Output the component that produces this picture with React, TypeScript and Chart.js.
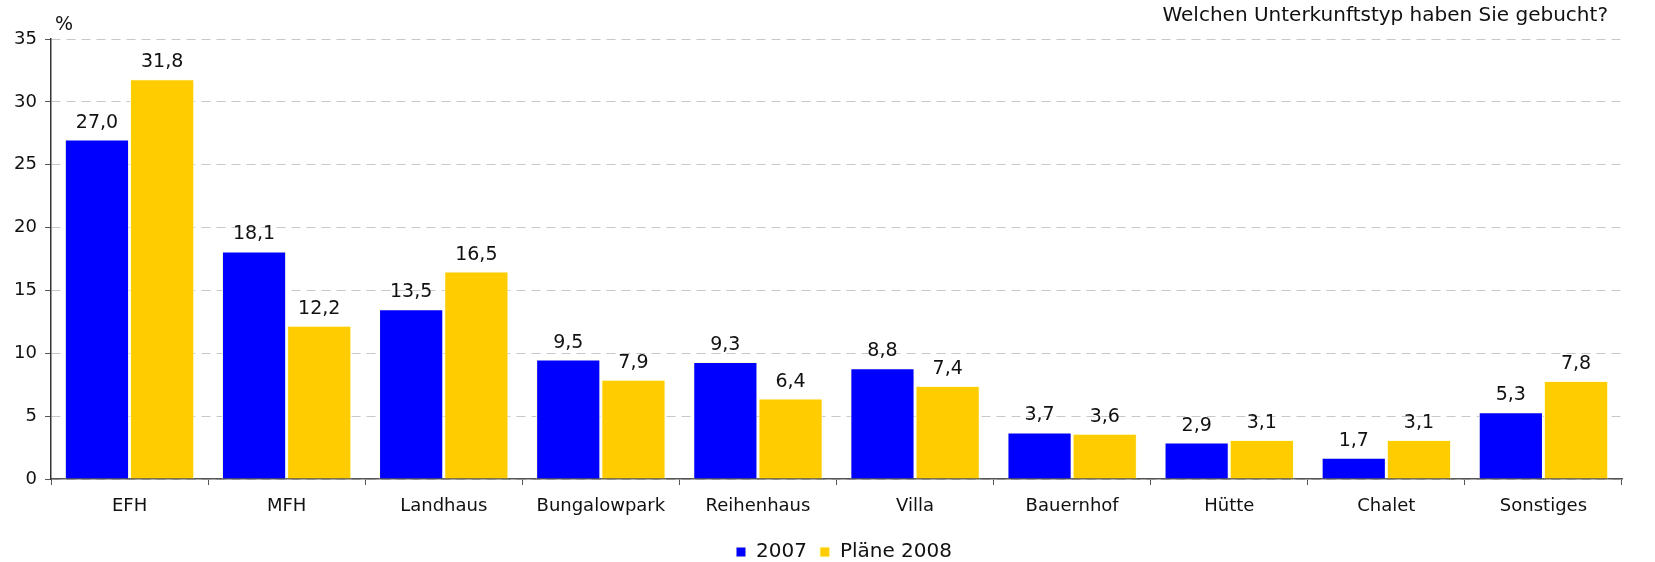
import React, { useEffect, useRef } from "react";
import { Chart, registerables } from "chart.js";

Chart.register(...registerables);

const categories = ["EFH", "MFH", "Landhaus", "Bungalowpark", "Reihenhaus", "Villa", "Bauernhof", "Hütte", "Chalet", "Sonstiges"];
const values2007 = [27.0, 18.1, 13.5, 9.5, 9.3, 8.8, 3.7, 2.9, 1.7, 5.3];
const values2008 = [31.8, 12.2, 16.5, 7.9, 6.4, 7.4, 3.6, 3.1, 3.1, 7.8];
const seriesLabels = ["2007", "Pläne 2008"];
const yTicks = [0, 5, 10, 15, 20, 25, 30, 35];
const titleText = "Welchen Unterkunftstyp haben Sie gebucht?";
const unitText = "%";

const FONT = "'DejaVu Sans', Verdana, sans-serif";

const labelsPlugin = {
  id: "customLabels",
  afterLayout(chart: any) {
    if (chart.legend) {
      chart.legend.left += 33;
      chart.legend.right += 33;
    }
  },
  afterDatasetsDraw(chart: any) {
    const ctx = chart.ctx;
    ctx.save();
    ctx.fillStyle = "#111";
    ctx.font = `19px ${FONT}`;
    ctx.textAlign = "center";
    ctx.textBaseline = "alphabetic";
    chart.data.datasets.forEach((ds: any, di: number) => {
      const meta = chart.getDatasetMeta(di);
      meta.data.forEach((bar: any, i: number) => {
        const v = ds.data[i] as number;
        ctx.fillText(v.toFixed(1).replace(".", ","), bar.x, bar.y - 12);
      });
    });
    ctx.restore();
  },
  afterDraw(chart: any) {
    const ctx = chart.ctx;
    ctx.save();
    ctx.fillStyle = "#111";
    ctx.font = `20px ${FONT}`;
    ctx.textAlign = "right";
    ctx.textBaseline = "middle";
    ctx.fillText(titleText, 1608, 16);
    ctx.textAlign = "left";
    ctx.font = `19px ${FONT}`;
    ctx.fillText(unitText, 55, 25);
    ctx.restore();
  },
};

export default function App() {
  const ref = useRef<HTMLCanvasElement>(null);
  useEffect(() => {
    document.body.style.margin = "0";
    const chart = new Chart(ref.current!, {
      type: "bar",
      data: {
        labels: categories,
        datasets: [
          {
            label: seriesLabels[0],
            data: values2007,
            backgroundColor: "#0000FF",
            borderColor: "#FFFFE0",
            borderWidth: 1,
            barPercentage: 0.985,
            categoryPercentage: 0.83,
          },
          {
            label: seriesLabels[1],
            data: values2008,
            backgroundColor: "#FFCC00",
            borderColor: "#FFFFE0",
            borderWidth: 1,
            barPercentage: 0.985,
            categoryPercentage: 0.83,
          },
        ],
      },
      options: {
        animation: false,
        responsive: false,
        layout: { padding: { top: 39, right: 33, left: 0, bottom: -10 } },
        plugins: {
          legend: {
            position: "bottom",
            labels: {
              boxWidth: 10,
              boxHeight: 10,
              padding: 13,
              color: "#111",
              font: { family: FONT, size: 20 },
            },
          },
          tooltip: { enabled: false },
          title: { display: false },
        },
        scales: {
          x: {
            grid: {
              display: true,
              drawOnChartArea: false,
              drawTicks: true,
              tickLength: 6,
              color: "#555",
              offset: true,
            },
            border: { display: true, color: "#555", width: 1.5 },
            ticks: { color: "#111", font: { family: FONT, size: 18 }, padding: 11 },
            afterFit(scale: any) {
              scale.height = 50;
            },
          },
          y: {
            min: 0,
            max: 35,
            afterBuildTicks(scale: any) {
              scale.ticks = yTicks.map((v) => ({ value: v }));
            },
            grid: {
              color: "#c8c8c8",
              tickColor: "#555",
              tickLength: 6,
              drawTicks: true,
              tickBorderDash: [],
            },
            border: { display: true, color: "#333", width: 1.5, dash: [9, 6] },
            ticks: { color: "#111", font: { family: FONT, size: 18 }, padding: 8 },
            afterFit(scale: any) {
              scale.width = 51;
            },
          },
        },
      },
      plugins: [labelsPlugin],
    });
    return () => chart.destroy();
  }, []);
  return <canvas ref={ref} width={1655} height={562} style={{ display: "block" }} />;
}
